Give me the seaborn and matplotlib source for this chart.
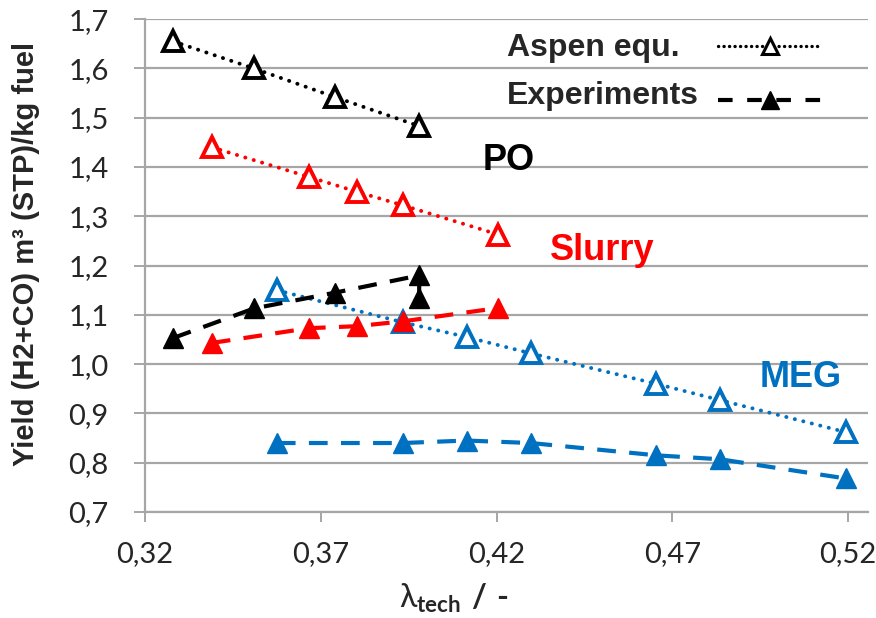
import matplotlib
matplotlib.use("Agg")
import matplotlib.pyplot as plt
import seaborn as sns
import pandas as pd
from matplotlib.lines import Line2D
from matplotlib.ticker import FuncFormatter, FixedLocator

# ---- data ----
po_x = [0.328, 0.351, 0.374, 0.398]
po_aspen = [1.655, 1.600, 1.542, 1.483]
po_exp_x = [0.328, 0.351, 0.374, 0.398, 0.398]
po_exp = [1.053, 1.113, 1.145, 1.180, 1.135]

slurry_x = [0.339, 0.3666, 0.3802, 0.3935, 0.4205]
slurry_aspen = [1.440, 1.380, 1.350, 1.322, 1.263]
slurry_exp = [1.043, 1.073, 1.077, 1.087, 1.114]

meg_x = [0.3575, 0.3933, 0.4115, 0.4297, 0.4655, 0.4836, 0.5194]
meg_aspen = [1.150, 1.085, 1.055, 1.022, 0.960, 0.927, 0.862]
meg_exp = [0.840, 0.840, 0.845, 0.840, 0.815, 0.807, 0.768]

x_ticks = [0.32, 0.37, 0.42, 0.47, 0.52]
y_ticks = [0.7, 0.8, 0.9, 1.0, 1.1, 1.2, 1.3, 1.4, 1.5, 1.6, 1.7]
legend_labels = ["Aspen equ.", "Experiments"]

BLACK, RED, BLUE = "#000000", "#FF0000", "#0070C0"
GRID = "#A6A6A6"

sns.set_style("white")
plt.rcParams["font.family"] = ["Liberation Sans", "DejaVu Sans"]
plt.rcParams["mathtext.fontset"] = "custom"
plt.rcParams["mathtext.rm"] = "Lato"
plt.rcParams["mathtext.bf"] = "Lato:bold"

fig = plt.figure(figsize=(8.76, 6.18), dpi=100)
ax = fig.add_axes([0.1655, 0.1715, 0.8255, 0.7975])

dotted = (0, (0.05, 2.2))
dashed = (0, (4.5, 3.2))

def aspen(x, y, c):
    sns.lineplot(x=x, y=y, ax=ax, sort=False, estimator=None, color=c,
                 linestyle=dotted, linewidth=2.8, dash_capstyle="round",
                 marker="^", markersize=15, markerfacecolor="white",
                 markeredgecolor=c, markeredgewidth=2.8, zorder=3)

def exper(x, y, c):
    sns.lineplot(x=x, y=y, ax=ax, sort=False, estimator=None, color=c,
                 linestyle=dashed, linewidth=3.0,
                 marker="^", markersize=15, markerfacecolor=c,
                 markeredgecolor=c, markeredgewidth=1, zorder=4)

aspen(po_x, po_aspen, BLACK)
aspen(slurry_x, slurry_aspen, RED)
aspen(meg_x, meg_aspen, BLUE)
exper(po_exp_x, po_exp, BLACK)
exper(slurry_x, slurry_exp, RED)
exper(meg_x, meg_exp, BLUE)

ax.set_xlim(0.32, 0.5257)
ax.set_ylim(0.7, 1.7)
ax.xaxis.set_major_locator(FixedLocator(x_ticks))
ax.yaxis.set_major_locator(FixedLocator(y_ticks))
ax.xaxis.set_major_formatter(FuncFormatter(lambda v, p: f"{v:.2f}".replace(".", ",")))
ax.yaxis.set_major_formatter(FuncFormatter(lambda v, p: f"{v:.1f}".replace(".", ",")))

ax.grid(axis="y", color=GRID, linewidth=1.6)
ax.grid(axis="x", visible=False)
ax.set_axisbelow(True)
for s in ["top", "right"]:
    ax.spines[s].set_visible(False)
for s in ["left", "bottom"]:
    ax.spines[s].set_color(GRID)
    ax.spines[s].set_linewidth(1.6)

ax.tick_params(axis="x", direction="out", length=7, width=1.4, color=GRID, pad=14,
               labelsize=21, bottom=True)
ax.tick_params(axis="y", direction="out", length=8, width=1.4, color=GRID, pad=18,
               labelsize=21, left=True)
for lab in ax.get_xticklabels() + ax.get_yticklabels():
    lab.set_fontfamily(["Lato", "DejaVu Sans"])

ax.set_ylabel("Yield (H2+CO) m³ (STP)/kg fuel", fontsize=21, fontweight="bold")
ax.yaxis.set_label_coords(-0.145, 0.523)
ax.set_xlabel("$\\mathrm{λ}_{\\mathbf{tech}}\\ \\mathbf{/}\\ \\mathbf{\u2010}$",
              fontsize=23)
ax.xaxis.set_label_coords(0.4274, -0.142)

ax.text(0.4236, 1.3937, "PO", color=BLACK, fontsize=26, fontweight="bold",
        ha="center", va="baseline")
ax.text(0.4500, 1.2112, "Slurry", color=RED, fontsize=26, fontweight="bold",
        ha="center", va="baseline")
ax.text(0.5066, 0.9535, "MEG", color=BLUE, fontsize=26, fontweight="bold",
        ha="center", va="baseline")

# legend: texts left-aligned, samples to their right
ax.text(0.423, 1.625, legend_labels[0], fontsize=23, fontweight="bold",
        ha="left", va="baseline")
ax.text(0.423, 1.5276, legend_labels[1], fontsize=23, fontweight="bold",
        ha="left", va="baseline")

handles = [
    Line2D([], [], color=BLACK, linestyle=(0, (0.05, 1.6)), linewidth=2.4,
           dash_capstyle="round", marker="^", markersize=12,
           markerfacecolor="white", markeredgecolor=BLACK, markeredgewidth=2.2),
    Line2D([], [], color=BLACK, linestyle=(0, (3.5, 3.5)), linewidth=3,
           marker="^", markersize=13, markerfacecolor=BLACK,
           markeredgecolor=BLACK),
]
leg = ax.legend(handles, ["", ""], loc="upper left",
                bbox_to_anchor=(0.7925, 0.97), frameon=False,
                handlelength=3.25, labelspacing=0.77, handletextpad=0,
                borderpad=0, borderaxespad=0, prop={"size": 23})

fig.savefig("out.png", dpi=100)
